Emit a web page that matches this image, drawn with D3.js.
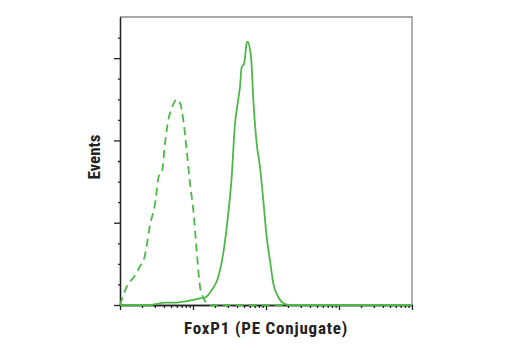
<!DOCTYPE html>
<html>
<head>
<meta charset="utf-8">
<script src="https://cdn.jsdelivr.net/npm/d3@7"></script>
<style>
	body { margin: 0; background: #fff; }
	.label { font-family: "Liberation Sans Narrow", "Roboto Condensed", "Arial Narrow", sans-serif; font-weight: bold; font-size: 17px; fill: #222; }
	.axis path, .axis line { stroke: #222; stroke-width: 1.3; }
</style>
</head>
<body>
<svg width="520" height="350"></svg>
<script>
(function() {

	//DATA
	var controlX = [1, 1.3, 1.52, 1.88, 2.15, 2.58, 3.02, 3.42, 3.73, 4.13, 4.59, 5.11, 5.67, 6.1, 6.63, 7.36, 8.2, 9.1, 10.1, 11.2, 12.5, 13.8, 17.1, 60, 10000]
	var controlY = [0, 0.26, 0.33, 0.47, 0.57, 0.97, 1.23, 1.57, 1.6, 1.96, 2.25, 2.39, 2.48, 2.5, 2.46, 2.25, 1.88, 1.48, 1.15, 0.67, 0.22, 0.09, 0, 0, 0]

	var foxX = [1, 2.58, 3.02, 4.13, 5.98, 8.62, 12.5, 14.6, 18, 22.2, 26, 29, 33.9, 37.6, 40.9, 44, 46.4, 50, 54.4, 56.1, 60.4, 63, 67, 74.6, 82.7, 91.9, 102, 113, 126, 147, 182, 213, 10000]
	var foxY = [0, 0, 0.01, 0.03, 0.03, 0.05, 0.08, 0.09, 0.18, 0.34, 0.63, 0.95, 1.56, 2.2, 2.45, 2.65, 2.89, 2.93, 3.18, 3.2, 3.1, 2.97, 2.5, 1.96, 1.68, 1.27, 0.83, 0.55, 0.26, 0.1, 0.01, 0, 0]

	var xMajor = [1, 10, 100, 1000, 10000]
	var yMajor = [0, 1, 2, 3]

	var green = '#4db848'
	var margin = { top: 17, bottom: 45, left: 120, right: 108 }
	var width = 520 - margin.left - margin.right
	var height = 350 - margin.top - margin.bottom

	var svg = d3.select('svg')
	var g = svg.append('g')
		.attr('transform', 'translate(' + margin.left + ',' + margin.top + ')')

	var x = d3.scaleLog().domain([1, 10000]).range([0, width])
	var y = d3.scaleLinear().domain([0, 3.5]).range([height, 0])

	// minor ticks
	var xMinor = []
	xMajor.slice(0, -1).forEach(function(d) {
		for (var k = 2; k < 10; k++) xMinor.push(d * k)
	})
	var yMinor = d3.range(0, 3.5, 0.25).filter(function(d) { return d % 1 !== 0 })

	// frame top/right
	g.append('path')
		.attr('d', 'M0,0H' + width + 'V' + height)
		.attr('fill', 'none')
		.attr('stroke', '#8a8a8a')
		.attr('stroke-width', 1.3)

	g.append('g').attr('class', 'axis')
		.attr('transform', 'translate(0,' + height + ')')
		.call(d3.axisBottom(x).tickValues(xMinor).tickSize(3).tickSizeOuter(0).tickFormat(''))
	g.append('g').attr('class', 'axis')
		.attr('transform', 'translate(0,' + height + ')')
		.call(d3.axisBottom(x).tickValues(xMajor).tickSize(5).tickSizeOuter(0).tickFormat(''))

	g.append('g').attr('class', 'axis')
		.call(d3.axisLeft(y).tickValues(yMinor).tickSize(2).tickSizeOuter(0).tickFormat(''))
	g.append('g').attr('class', 'axis')
		.call(d3.axisLeft(y).tickValues(yMajor).tickSize(6).tickSizeOuter(0).tickFormat(''))

	var line = d3.line()
		.x(function(d) { return x(d[0]) })
		.y(function(d) { return y(d[1]) })
		.curve(d3.curveMonotoneX)

	g.append('path')
		.datum(d3.zip(foxX, foxY))
		.attr('d', line)
		.attr('fill', 'none')
		.attr('stroke', green)
		.attr('stroke-width', 1.8)

	g.append('path')
		.datum(d3.zip(controlX, controlY))
		.attr('d', line)
		.attr('fill', 'none')
		.attr('stroke', green)
		.attr('stroke-width', 1.8)
		.attr('stroke-dasharray', '8,5')

	svg.append('text')
		.attr('class', 'label')
		.attr('text-anchor', 'middle')
		.attr('x', margin.left + width / 2)
		.attr('y', 334)
		.style('letter-spacing', '0.8px')
		.text('FoxP1 (PE Conjugate)')

	svg.append('text')
		.attr('class', 'label')
		.attr('text-anchor', 'middle')
		.attr('transform', 'translate(99.5,' + (margin.top + 140) + ')rotate(-90)')
		.text('Events')
})()
</script>
</body>
</html>
